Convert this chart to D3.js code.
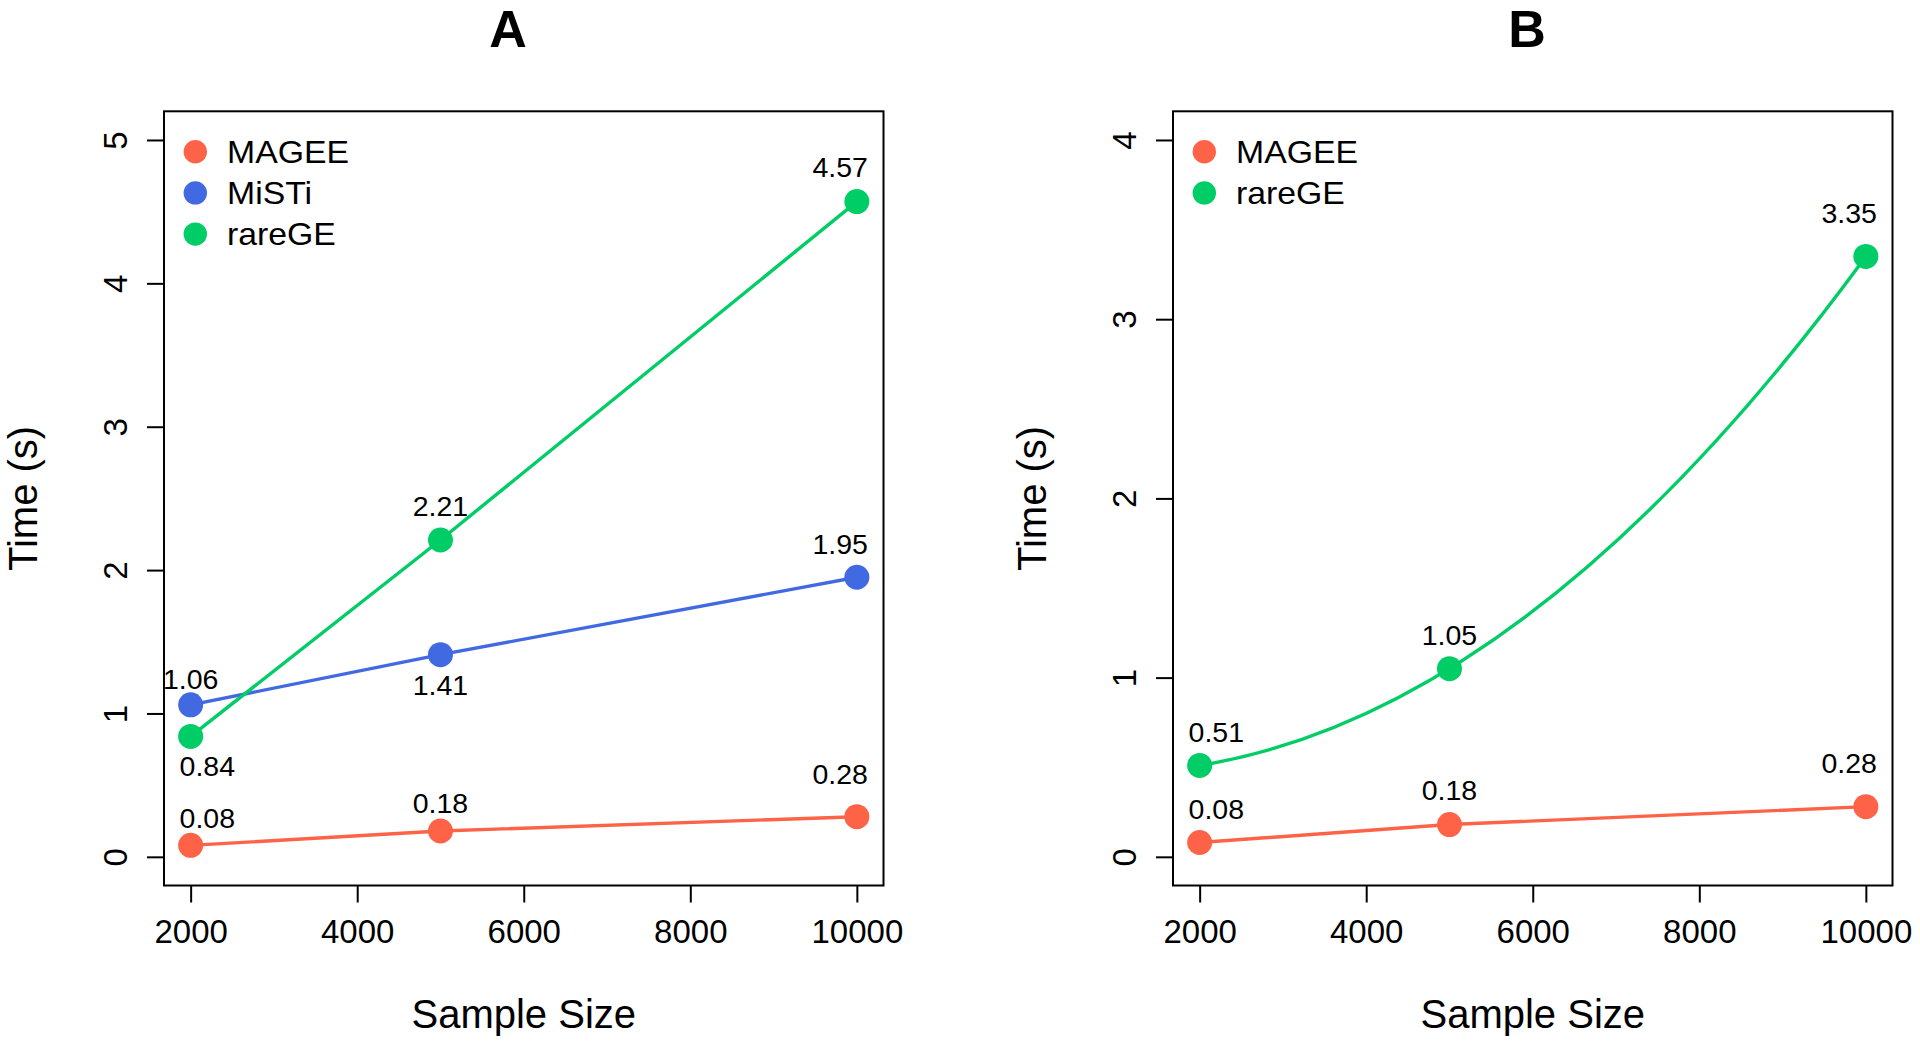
<!DOCTYPE html>
<html>
<head>
<meta charset="utf-8">
<script src="https://cdn.jsdelivr.net/npm/d3@7"></script>
<style>
  html, body { margin: 0; padding: 0; background: #fff; }
  svg { display: block; }
  text { font-family: "Liberation Sans", Arial, Helvetica, sans-serif; fill: #000; }
</style>
</head>
<body>
<svg id="chart" width="1920" height="1045"></svg>
<script>
// ---------------- data ----------------
const sampleSizes = [2000, 5000, 10000];
const xTicks = [2000, 4000, 6000, 8000, 10000];

const yTicksA = [0, 1, 2, 3, 4, 5];
const yTicksB = [0, 1, 2, 3, 4];

const mageeA  = [0.08, 0.18, 0.28];
const mistiA  = [1.06, 1.41, 1.95];
const raregeA = [0.84, 2.21, 4.57];

const mageeB  = [0.08, 0.18, 0.28];
const raregeB = [0.51, 1.05, 3.35];

// value-label anchors (data units)
const labelXMageeA  = [2200, 5000, 9800];
const labelYMageeA  = [0.274, 0.375, 0.577];
const labelXMistiA  = [2000, 5000, 9800];
const labelYMistiA  = [1.245, 1.20, 2.183];
const labelXRaregeA = [2200, 5000, 9800];
const labelYRaregeA = [0.634, 2.449, 4.815];

const labelXMageeB  = [2200, 5000, 9800];
const labelYMageeB  = [0.268, 0.373, 0.523];
const labelXRaregeB = [2200, 5000, 9800];
const labelYRaregeB = [0.697, 1.24, 3.595];

const colors = { MAGEE: "#FF6347", MiSTi: "#4169E1", rareGE: "#00CD66" };

// ---------------- drawing ----------------
const svg = d3.select("#chart");

function drawPanel(p) {
  const g = svg.append("g");
  const x = d3.scaleLinear().domain([1680, 10320]).range([p.left, p.right]);
  const yMax = p.yMax, pad = yMax * 0.04;
  const y = d3.scaleLinear().domain([-pad, yMax + pad]).range([p.bottom, p.top]);

  // title
  g.append("text").attr("x", p.titleX).attr("y", 47)
    .attr("text-anchor", "middle").attr("font-size", 52).attr("font-weight", "bold")
    .text(p.title);

  // x axis
  const xa = g.append("g").attr("transform", `translate(0,${p.bottom})`)
    .call(d3.axisBottom(x).tickValues(xTicks).tickSize(17).tickPadding(17.5).tickFormat(d3.format("d")));
  xa.select(".domain").remove();
  xa.selectAll(".tick line").attr("stroke", "#000").attr("stroke-width", 2);
  xa.selectAll(".tick text").attr("font-size", 33).attr("fill", "#000")
    .attr("font-family", '"Liberation Sans", Arial, sans-serif');

  // y axis
  const ya = g.append("g").attr("transform", `translate(${p.left},0)`)
    .call(d3.axisLeft(y).tickValues(p.yTicks).tickSize(17).tickFormat(d3.format("d")));
  ya.select(".domain").remove();
  ya.selectAll(".tick line").attr("stroke", "#000").attr("stroke-width", 2);
  ya.selectAll(".tick text")
    .attr("font-size", 33).attr("fill", "#000")
    .attr("font-family", '"Liberation Sans", Arial, sans-serif')
    .attr("transform", "rotate(-90)")
    .attr("x", 0).attr("y", -37).attr("dy", 0)
    .attr("text-anchor", "middle");

  // box
  g.append("rect").attr("x", p.left).attr("y", p.top)
    .attr("width", p.right - p.left).attr("height", p.bottom - p.top)
    .attr("fill", "none").attr("stroke", "#000").attr("stroke-width", 2);

  // axis titles
  g.append("text").attr("x", (p.left + p.right) / 2).attr("y", 1028)
    .attr("text-anchor", "middle").attr("font-size", 40).text("Sample Size");
  g.append("text")
    .attr("transform", `translate(${p.left - 127.5},${(p.top + p.bottom) / 2}) rotate(-90)`)
    .attr("text-anchor", "middle").attr("font-size", 40).text("Time (s)");

  // series
  p.series.forEach(s => {
    const pts = sampleSizes.map((sz, i) => [x(sz), y(s.values[i])]);
    if (s.smooth) {
      // parabola through the three points, drawn as one quadratic Bezier
      const [x0, x1, x2] = sampleSizes, [v0, v1, v2] = s.values;
      const d1 = (v1 - v0) / (x1 - x0), d2 = (v2 - v1) / (x2 - x1);
      const c = (d2 - d1) / (x2 - x0);
      const slope0 = d1 + c * (x0 - x1);
      const xm = (x0 + x2) / 2;
      const ym = v0 + slope0 * (xm - x0);
      const path = d3.path();
      path.moveTo(x(x0), y(v0));
      path.quadraticCurveTo(x(xm), y(ym), x(x2), y(v2));
      g.append("path").attr("d", path.toString())
        .attr("fill", "none").attr("stroke", s.color).attr("stroke-width", 3.4);
    } else {
      g.append("path").attr("d", d3.line()(pts))
        .attr("fill", "none").attr("stroke", s.color).attr("stroke-width", 3.4);
    }
    g.selectAll(null).data(pts).enter().append("circle")
      .attr("cx", d => d[0]).attr("cy", d => d[1]).attr("r", 12.5)
      .attr("fill", s.color);
    g.selectAll(null).data(s.values).enter().append("text")
      .attr("x", (d, i) => x(s.labelX[i]))
      .attr("y", (d, i) => y(s.labelY[i]))
      .attr("dy", "0.36em")
      .attr("text-anchor", "middle").attr("font-size", 28.5)
      .text(d => d.toFixed(2));
  });

  // legend
  p.series.forEach((s, i) => {
    const cy = 151.7 + i * 41.2;
    g.append("circle").attr("cx", p.left + 31.3).attr("cy", cy).attr("r", 11.7).attr("fill", s.color);
    g.append("text")
      .attr("transform", `translate(${p.left + 63},${cy}) scale(1.09,1)`)
      .attr("dy", "0.36em")
      .attr("font-size", 31).text(s.name);
  });
}

drawPanel({
  title: "A", titleX: 508, left: 164, right: 883.5, top: 111.3, bottom: 885.5,
  yMax: 5, yTicks: yTicksA,
  series: [
    { name: "MAGEE",  color: colors.MAGEE,  values: mageeA,  labelX: labelXMageeA,  labelY: labelYMageeA },
    { name: "MiSTi",  color: colors.MiSTi,  values: mistiA,  labelX: labelXMistiA,  labelY: labelYMistiA },
    { name: "rareGE", color: colors.rareGE, values: raregeA, labelX: labelXRaregeA, labelY: labelYRaregeA }
  ]
});

drawPanel({
  title: "B", titleX: 1527, left: 1173, right: 1892.5, top: 111.3, bottom: 885.5,
  yMax: 4, yTicks: yTicksB,
  series: [
    { name: "MAGEE",  color: colors.MAGEE,  values: mageeB,  labelX: labelXMageeB,  labelY: labelYMageeB },
    { name: "rareGE", color: colors.rareGE, values: raregeB, labelX: labelXRaregeB, labelY: labelYRaregeB, smooth: true }
  ]
});
</script>
</body>
</html>
